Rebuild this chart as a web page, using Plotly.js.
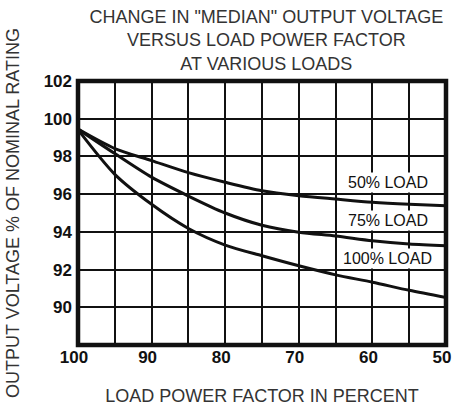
<!DOCTYPE html>
<html>
<head>
<meta charset="utf-8">
<script src="https://cdn.plot.ly/plotly-3.0.1.min.js"></script>
<style>
  html, body { margin: 0; padding: 0; background: #fff; }
  #chart { width: 453px; height: 406px; }
</style>
</head>
<body>
<div id="chart"></div>
<script>
// Load power factor (percent)
const powerFactor = [100, 95, 90, 85, 80, 75, 70, 65, 60, 55, 50];
// Output voltage, % of nominal rating
const load50  = [99.45, 98.42, 97.78, 97.14, 96.63, 96.18, 95.92, 95.74, 95.57, 95.46, 95.38];
const load75  = [99.45, 98.15, 96.90, 95.90, 95.00, 94.35, 93.98, 93.78, 93.53, 93.36, 93.26];
const load100 = [99.42, 97.05, 95.46, 94.18, 93.30, 92.73, 92.20, 91.72, 91.33, 90.90, 90.52];

const seriesNames = ["50% LOAD", "75% LOAD", "100% LOAD"];
const labelPF = [57.9, 57.9, 57.9];
const labelV  = [96.62, 94.58, 92.6];

const xTickVals = [100, 95, 90, 85, 80, 75, 70, 65, 60, 55, 50];
const xTickText = ["100", "", "90", "", "80", "", "70", "", "60", "", "50"];
const yTickVals = [88, 90, 92, 94, 96, 98, 100, 102];
const yTickText = ["", "90", "92", "94", "96", "98", "100", "102"];

const FONT = "Liberation Sans, Arial, Helvetica, sans-serif";
const lineStyle = {color: "#111", width: 3, shape: "spline", smoothing: 0.8};

const data = [load50, load75, load100].map((v, i) => ({
  x: powerFactor, y: v, type: "scatter", mode: "lines",
  name: seriesNames[i], line: lineStyle, hoverinfo: "skip"
}));

const annotations = seriesNames.map((t, i) => ({
  x: labelPF[i], y: labelV[i], xref: "x", yref: "y",
  text: t, showarrow: false, bgcolor: "#fff", borderpad: 1,
  font: {family: FONT, size: 16, color: "#111"}
}));

const layout = {
  width: 453, height: 406,
  margin: {l: 78, r: 7, t: 81, b: 61, pad: 0},
  paper_bgcolor: "#fff", plot_bgcolor: "#fff",
  showlegend: false,
  title: {
    text: 'CHANGE IN "MEDIAN" OUTPUT VOLTAGE<br>VERSUS LOAD POWER FACTOR<br>AT VARIOUS LOADS',
    font: {family: FONT, size: 18, color: "#333"},
    x: 0.588, xref: "container", xanchor: "center",
    y: 0.944, yref: "container", yanchor: "top"
  },
  xaxis: {
    range: [100, 50], tickvals: xTickVals, ticktext: xTickText,
    showgrid: true, gridcolor: "#111", gridwidth: 2,
    zeroline: false, showline: false, ticks: "", ticklabeloverflow: "allow",
    ticklabelshift: 4,
    tickfont: {family: FONT, size: 17, color: "#111", weight: "bold"},
    title: {text: "LOAD POWER FACTOR IN PERCENT", font: {family: FONT, size: 18, color: "#333"}, standoff: 26}
  },
  yaxis: {
    range: [88, 102], tickvals: yTickVals, ticktext: yTickText,
    showgrid: true, gridcolor: "#111", gridwidth: 2,
    zeroline: false, showline: false, ticks: "", ticklabelstandoff: 5,
    tickfont: {family: FONT, size: 17, color: "#111", weight: "bold"},
    title: {text: "OUTPUT VOLTAGE % OF NOMINAL RATING", font: {family: FONT, size: 18, color: "#333"}, standoff: 19}
  },
  shapes: [{
    type: "rect", xref: "paper", yref: "paper", x0: 0, x1: 1, y0: 0, y1: 1,
    line: {color: "#111", width: 4.5}, layer: "above"
  }],
  annotations: annotations
};

Plotly.newPlot("chart", data, layout, {staticPlot: true, displayModeBar: false});
</script>
</body>
</html>
